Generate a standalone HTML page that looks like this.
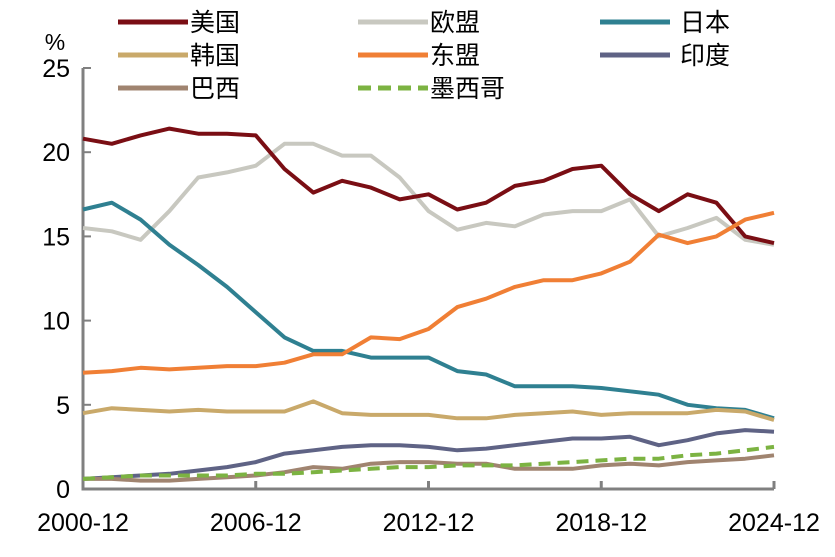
<!DOCTYPE html>
<html><head><meta charset="utf-8"><style>
body{margin:0;background:#fff;}
svg text{font-family:"Liberation Sans","Noto Sans CJK SC",sans-serif;fill:#000;}
</style></head><body>
<svg id="c" width="835" height="552" xmlns="http://www.w3.org/2000/svg"></svg>
<script>
const xLabels=["2000-12","2006-12","2012-12","2018-12","2024-12"];
const yTicks=[0,5,10,15,20,25];
const names=["美国","欧盟","日本","韩国","东盟","印度","巴西","墨西哥"];
const colors=["#7a0e14","#c8c8c0","#2f8091","#c9a96a","#f07f35","#5f6385","#a08470","#7cb342"];
const us=[20.8,20.5,21.0,21.4,21.1,21.1,21.0,19.0,17.6,18.3,17.9,17.2,17.5,16.6,17.0,18.0,18.3,19.0,19.2,17.5,16.5,17.5,17.0,15.0,14.6];
const eu=[15.5,15.3,14.8,16.5,18.5,18.8,19.2,20.5,20.5,19.8,19.8,18.5,16.5,15.4,15.8,15.6,16.3,16.5,16.5,17.2,15.0,15.5,16.1,14.8,14.5];
const jp=[16.6,17.0,16.0,14.5,13.3,12.0,10.5,9.0,8.2,8.2,7.8,7.8,7.8,7.0,6.8,6.1,6.1,6.1,6.0,5.8,5.6,5.0,4.8,4.7,4.2];
const kr=[4.5,4.8,4.7,4.6,4.7,4.6,4.6,4.6,5.2,4.5,4.4,4.4,4.4,4.2,4.2,4.4,4.5,4.6,4.4,4.5,4.5,4.5,4.7,4.6,4.1];
const asean=[6.9,7.0,7.2,7.1,7.2,7.3,7.3,7.5,8.0,8.0,9.0,8.9,9.5,10.8,11.3,12.0,12.4,12.4,12.8,13.5,15.1,14.6,15.0,16.0,16.4];
const india=[0.6,0.7,0.8,0.9,1.1,1.3,1.6,2.1,2.3,2.5,2.6,2.6,2.5,2.3,2.4,2.6,2.8,3.0,3.0,3.1,2.6,2.9,3.3,3.5,3.4];
const brazil=[0.6,0.6,0.5,0.5,0.6,0.7,0.8,1.0,1.3,1.2,1.5,1.6,1.6,1.5,1.5,1.2,1.2,1.2,1.4,1.5,1.4,1.6,1.7,1.8,2.0];
const mexico=[0.6,0.7,0.8,0.8,0.8,0.8,0.9,0.9,1.0,1.1,1.2,1.3,1.3,1.4,1.4,1.4,1.5,1.6,1.7,1.8,1.8,2.0,2.1,2.3,2.5];
const series=[us,eu,jp,kr,asean,india,brazil,mexico];
const svg=document.getElementById('c');
const NS="http://www.w3.org/2000/svg";
const x0=83,x1=774,y0=489,y1=68;
const X=t=>x0+(x1-x0)*t/24;
const Y=v=>y0-(y0-y1)*v/25;
function mk(tag,attrs,parent){const e=document.createElementNS(NS,tag);for(const k in attrs)e.setAttribute(k,attrs[k]);(parent||svg).appendChild(e);return e;}
const ax=mk('path',{d:`M${x0},${Y(25)}V${y0}H${x1}`,stroke:'#808080','stroke-width':3,fill:'none'});


yTicks.forEach(v=>{
 const tk=mk('line',{x1:x0,x2:x0+8,y1:Y(v),y2:Y(v),stroke:'#808080','stroke-width':2});
 
 
 const t=mk('text',{x:70,y:Y(v)+9,'text-anchor':'end','font-size':25});
 t.textContent=v;
 
 
});
const pct=mk('text',{x:55,y:50,'text-anchor':'middle','font-size':23});pct.textContent='%';


xLabels.forEach((l,i)=>{
 const xx=X(i*6);
 const tk=mk('line',{x1:xx,x2:xx,y1:y0,y2:y0-8,stroke:'#808080','stroke-width':3});
 
 
 const t=mk('text',{x:xx,y:531,'text-anchor':'middle','font-size':25});
 t.textContent=l;
 
 
});
[1,0,2,3,4,5,6,7].forEach(i=>{
 const d=series[i].map((v,t)=>(t?'L':'M')+X(t).toFixed(1)+','+Y(v).toFixed(1)).join('');
 const p=mk('path',{d,stroke:colors[i],'stroke-width':4,fill:'none','stroke-linejoin':'round'});
 if(i===7)p.setAttribute('stroke-dasharray','12,7');
 
 
});
const lx=[118,358,600],ly=[22,55,88];
names.forEach((n,i)=>{
 const cx=lx[i%3],cy=ly[Math.floor(i/3)];
 const g=mk('g',{});
 
 
 const l=mk('line',{x1:cx,x2:cx+70,y1:cy,y2:cy,stroke:colors[i],'stroke-width':5},g);
 if(i===7)l.setAttribute('stroke-dasharray','13,7');
 const t=mk('text',{x:cx+(i%3===2?80:72),y:cy+9,'font-size':25},g);
 t.textContent=n;
});
</script>
</body></html>
